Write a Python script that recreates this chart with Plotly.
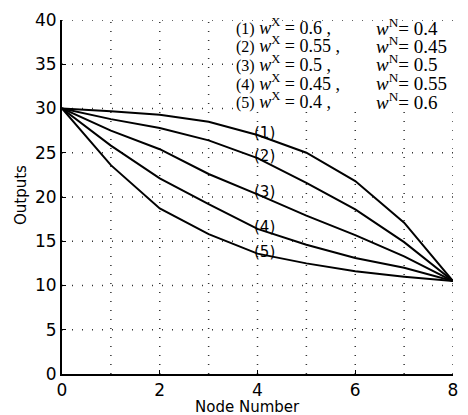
import plotly.graph_objects as go

nodes = [0, 1, 2, 3, 4, 5, 6, 7, 8]
out1 = [30, 29.7, 29.3, 28.5, 27.0, 25.0, 21.8, 17.1, 10.5]
out2 = [30, 28.8, 27.8, 26.4, 24.4, 21.6, 18.6, 14.9, 10.5]
out3 = [30, 27.5, 25.4, 22.6, 20.3, 17.9, 15.7, 13.3, 10.5]
out4 = [30, 25.8, 22.1, 19.2, 16.4, 14.6, 13.1, 12.0, 10.5]
out5 = [30, 23.6, 18.7, 15.8, 13.6, 12.5, 11.6, 11.0, 10.5]
series = [out1, out2, out3, out4, out5]
curve_labels = ["(1)", "(2)", "(3)", "(4)", "(5)"]
wx = ["0.6", "0.55", "0.5", "0.45", "0.4"]
wn = ["0.4", "0.45", "0.5", "0.55", "0.6"]
label_node = 4

W, H = 468, 415
L, R, T, B = 62, 10, 15, 41
PW, PH = W - L - R, H - T - B


def px(xp):
    return (xp - L) / PW


def py(yp):
    return 1 - (yp - T) / PH


fig = go.Figure()
for s in series:
    fig.add_trace(go.Scatter(x=nodes, y=s, mode="lines",
                             line=dict(color="black", width=2),
                             showlegend=False, hoverinfo="skip"))

for lab, s in zip(curve_labels, series):
    fig.add_annotation(x=label_node, y=s[nodes.index(label_node)], text=lab,
                       showarrow=False, xshift=7, yshift=2,
                       font=dict(family="DejaVu Sans", size=15, color="black"))

# white box behind the legend text
fig.add_shape(type="rect", xref="x", yref="y", x0=3.5, x1=8.1, y0=29.8, y1=39.8,
              fillcolor="white", line=dict(width=0), layer="above")

row_y_px = [22, 40, 59, 78, 97]
serif = "Liberation Serif"
for i in range(5):
    yy = py(row_y_px[i])
    left = (f"<span style='font-size:16px'>{curve_labels[i]}</span> "
            f"<i>w</i><sup>X</sup> = {wx[i]} ,")
    right = f"<i>w</i><sup>N</sup>= {wn[i]}"
    fig.add_annotation(xref="paper", yref="paper", x=px(237), y=yy,
                       xanchor="left", yanchor="middle", showarrow=False,
                       text=left, borderpad=0,
                       font=dict(family=serif, size=18, color="black"))
    fig.add_annotation(xref="paper", yref="paper", x=px(379), y=yy,
                       xanchor="left", yanchor="middle", showarrow=False,
                       text=right, borderpad=0,
                       font=dict(family=serif, size=19, color="black"))

# axis titles
fig.add_annotation(xref="paper", yref="paper", x=px(250), y=py(407),
                   text="Node Number", showarrow=False,
                   xanchor="center", yanchor="middle",
                   font=dict(family="DejaVu Sans", size=15, color="black"))
fig.add_annotation(xref="paper", yref="paper", x=px(20), y=py(193),
                   text="Outputs", showarrow=False, textangle=-90,
                   xanchor="center", yanchor="middle",
                   font=dict(family="DejaVu Sans", size=15, color="black"))

fig.update_layout(
    width=W, height=H,
    margin=dict(l=L, r=R, t=T, b=B),
    paper_bgcolor="white", plot_bgcolor="white",
    font=dict(family="DejaVu Sans", color="black"),
)
fig.update_xaxes(range=[0, 8], tickvals=[0, 2, 4, 6, 8], ticks="inside", ticklen=4,
                 tickcolor="black", showline=True, linecolor="black", linewidth=2,
                 showgrid=False, zeroline=False,
                 tickfont=dict(size=17, family="DejaVu Sans"))
fig.update_yaxes(range=[0, 40], tickvals=[0, 5, 10, 15, 20, 25, 30, 35, 40],
                 ticks="inside", ticklen=4, tickcolor="black",
                 showline=True, linecolor="black", linewidth=2,
                 showgrid=False, zeroline=False,
                 tickfont=dict(size=17, family="DejaVu Sans"))

# dotted grid lines drawn as shapes in data coordinates
for gx in range(1, 9):
    fig.add_shape(type="line", xref="x", yref="y", x0=gx, x1=gx, y0=0, y1=40,
                  line=dict(color="#333333", width=1.5, dash="1px,8px"), layer="below")
for gy in range(5, 45, 5):
    fig.add_shape(type="line", xref="x", yref="y", x0=0, x1=8, y0=gy, y1=gy,
                  line=dict(color="#333333", width=1.5, dash="1px,9px"), layer="below")

fig.write_html("out.html")
